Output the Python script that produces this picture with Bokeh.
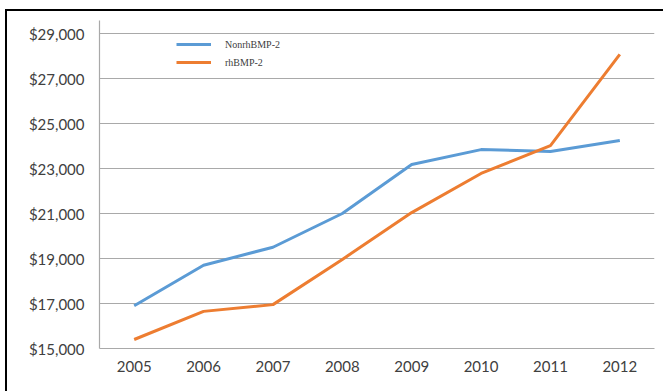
from bokeh.plotting import figure
from bokeh.models import (ColumnDataSource, FactorRange, Range1d, FixedTicker,
                          NumeralTickFormatter, Legend, LegendItem)
from bokeh.layouts import column
from bokeh.embed import file_html
from bokeh.resources import INLINE

years = ["2005", "2006", "2007", "2008", "2009", "2010", "2011", "2012"]
non_rhbmp2 = [16900, 18700, 19500, 21000, 23180, 23840, 23760, 24240]
rhbmp2 = [15400, 16650, 16950, 18960, 21040, 22780, 24020, 28070]
y_ticks = [15000, 17000, 19000, 21000, 23000, 25000, 27000, 29000]

src = ColumnDataSource(dict(year=years, non=non_rhbmp2, rh=rhbmp2))

p = figure(
    width=656, height=380,
    x_range=FactorRange(*years, range_padding=0),
    y_range=Range1d(15000, 29578),
    output_backend="svg", toolbar_location=None,
    min_border_left=92, min_border_right=9,
    min_border_top=9, min_border_bottom=43,
    background_fill_color="white", border_fill_color="white",
)
p.outline_line_color = None

blue = p.line("year", "non", source=src, line_color="#5B9BD5", line_width=3)
orange = p.line("year", "rh", source=src, line_color="#ED7D31", line_width=3)

gray = "#A9A9A9"
text_color = "#404040"

p.xgrid.grid_line_color = None
p.ygrid.grid_line_color = gray
p.ygrid.grid_line_width = 1.2
p.yaxis.ticker = FixedTicker(ticks=y_ticks)
p.yaxis.formatter = NumeralTickFormatter(format="$0,0")

for ax in (p.xaxis[0], p.yaxis[0]):
    ax.axis_line_color = gray
    ax.axis_line_width = 1.2
    ax.major_tick_line_color = None
    ax.minor_tick_line_color = None
    ax.major_tick_out = 0
    ax.major_tick_in = 0
    ax.major_label_text_font = "Lato"
    ax.major_label_text_font_size = "15px"
    ax.major_label_text_color = text_color
p.yaxis.major_label_standoff = 15
p.xaxis.major_label_standoff = 12

legend = Legend(
    items=[LegendItem(label="NonrhBMP-2", renderers=[blue]),
           LegendItem(label="rhBMP-2", renderers=[orange])],
    location=(77, 278),
    border_line_color=None, background_fill_alpha=0,
    padding=0, margin=0, spacing=2,
    glyph_width=35, glyph_height=16, label_height=16,
    label_standoff=14,
    label_text_font="Liberation Serif", label_text_font_size="10px",
    label_text_color=text_color,
)
p.add_layout(legend, "center")

# black rule along the top and left of the page
page = column(
    p,
    margin=(9, 0, 0, 5),
    styles={"border-top": "2px solid #000", "border-left": "2px solid #000",
            "border-right": "none", "border-bottom": "none",
            "overflow": "hidden"},
)

open("out.html", "w").write(file_html(page, INLINE))
